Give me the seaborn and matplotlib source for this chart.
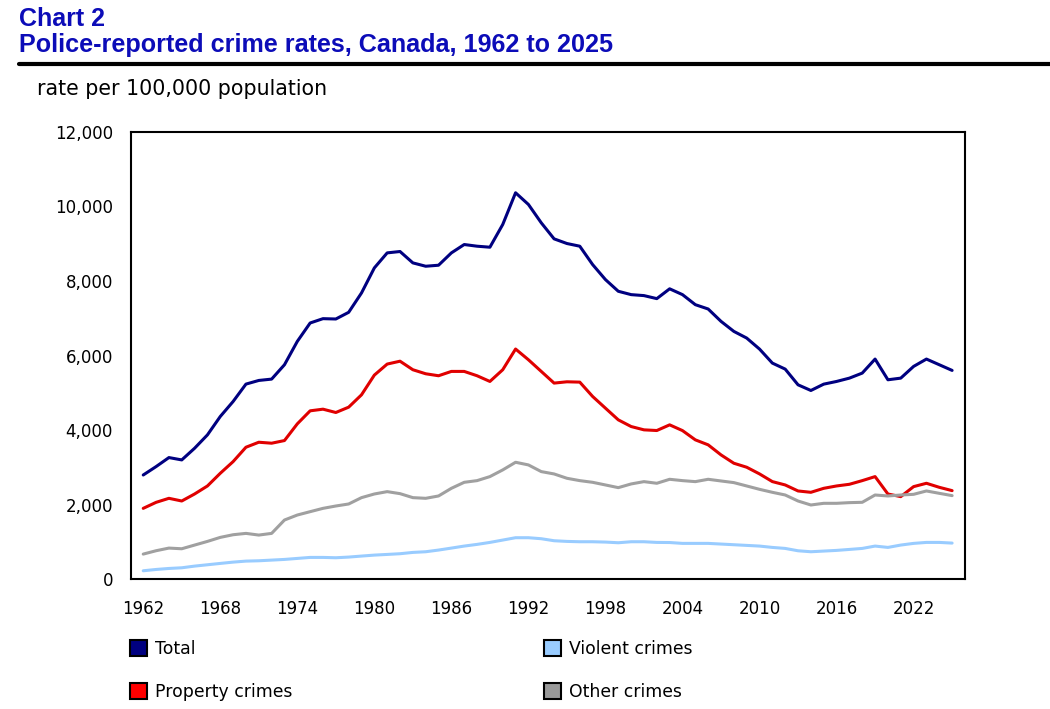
import pandas as pd
import seaborn as sns
import matplotlib.pyplot as plt
from matplotlib.patches import Patch
from matplotlib.lines import Line2D
from matplotlib.ticker import FuncFormatter

# Years and rates per 100,000 population
years = list(range(1962, 2026))

total = [2800, 3025, 3267, 3204, 3517, 3875, 4368, 4770, 5236, 5334,
         5370, 5755, 6381, 6874, 6990, 6981, 7160, 7679, 8350, 8753,
         8790, 8485, 8395, 8422, 8753, 8977, 8932, 8905, 9514, 10364,
         10051, 9559, 9129, 9004, 8932, 8440, 8037, 7724, 7634, 7608,
         7527, 7790, 7634, 7365, 7249, 6918, 6649, 6470, 6175, 5799,
         5638, 5217, 5065, 5235, 5307, 5396, 5531, 5907, 5352, 5396,
         5710, 5907, 5755, 5603]

property_crimes = [1906, 2067, 2175, 2103, 2291, 2506, 2846, 3159, 3544, 3678,
                   3652, 3723, 4171, 4520, 4564, 4475, 4618, 4949, 5477, 5773,
                   5850, 5621, 5513, 5460, 5576, 5576, 5460, 5307, 5621, 6176,
                   5889, 5576, 5263, 5298, 5289, 4905, 4591, 4278, 4099, 4010,
                   3992, 4144, 3990, 3742, 3608, 3339, 3115, 3008, 2829, 2623,
                   2533, 2372, 2336, 2443, 2506, 2551, 2649, 2757, 2291, 2220,
                   2488, 2578, 2470, 2381]

violent_crimes = [233, 268, 295, 313, 358, 394, 430, 465, 492, 501,
                  519, 537, 564, 591, 591, 582, 600, 627, 653, 671,
                  690, 725, 743, 788, 841, 895, 940, 993, 1056, 1119,
                  1119, 1092, 1038, 1020, 1011, 1011, 1002, 984, 1011, 1011,
                  993, 990, 967, 967, 967, 949, 931, 913, 895, 859,
                  832, 769, 743, 761, 779, 805, 832, 895, 859, 922,
                  967, 993, 993, 975]

other_crimes = [680, 770, 841, 823, 922, 1020, 1128, 1199, 1235, 1190,
                1235, 1593, 1727, 1817, 1906, 1969, 2023, 2193, 2291, 2354,
                2300, 2193, 2175, 2238, 2443, 2604, 2649, 2757, 2936, 3141,
                3070, 2891, 2828, 2712, 2649, 2604, 2533, 2461, 2560, 2622,
                2578, 2685, 2649, 2622, 2685, 2640, 2596, 2506, 2416, 2336,
                2264, 2103, 1996, 2041, 2041, 2059, 2068, 2264, 2238, 2264,
                2282, 2372, 2309, 2247]

series_names = ['Total', 'Property crimes', 'Violent crimes', 'Other crimes']
line_colours = ['#000080', '#E00000', '#99CCFF', '#A0A0A0']
box_colours = ['#000080', '#FF0000', '#99CCFF', '#999999']
year_labels = [1962, 1968, 1974, 1980, 1986, 1992, 1998, 2004, 2010, 2016, 2022]
rate_ticks = [0, 2000, 4000, 6000, 8000, 10000, 12000]

df = pd.DataFrame({'year': years,
                   'Total': total,
                   'Property crimes': property_crimes,
                   'Violent crimes': violent_crimes,
                   'Other crimes': other_crimes})
long_df = df.melt(id_vars='year', var_name='series', value_name='rate')

sns.set_style('white')
plt.rcParams['font.family'] = ['DejaVu Sans']
plt.rcParams['text.color'] = 'black'
plt.rcParams['xtick.color'] = 'black'
plt.rcParams['ytick.color'] = 'black'

fig = plt.figure(figsize=(10.5, 7.09), dpi=100)
ax = fig.add_axes([0.1248, 0.1827, 0.7942, 0.6315])

sns.lineplot(data=long_df, x='year', y='rate', hue='series',
             hue_order=series_names,
             palette=dict(zip(series_names, line_colours)),
             linewidth=2.2, legend=False, ax=ax)

ax.set_xlim(1961.05, 2026.0)
ax.set_ylim(0, 12000)
ax.set_xticks(year_labels)
ax.set_xticks(years, minor=True)
ax.set_yticks(rate_ticks)
ax.yaxis.set_major_formatter(FuncFormatter(lambda v, p: f'{int(v):,}'))
ax.set_xlabel('')
ax.set_ylabel('')

ax.tick_params(axis='x', which='both', direction='in', length=5, width=1.5,
               labelsize=12, pad=15, color='black', labelcolor='black')
ax.tick_params(axis='y', direction='in', length=6.5, width=1.5,
               labelsize=12, pad=13, color='black', labelcolor='black')
for s in ax.spines.values():
    s.set_visible(True)
    s.set_color('black')
    s.set_linewidth(1.5)

# titles
title_col = '#0C0CB8'
fig.text(19 / 1050, 1 - 26 / 709, 'Chart 2', family='Liberation Sans',
         weight='bold', size=18, color=title_col, va='baseline')
fig.text(19 / 1050, 1 - 51.7 / 709,
         'Police-reported crime rates, Canada, 1962 to 2025',
         family='Liberation Sans', weight='bold', size=18.1, color=title_col,
         va='baseline')
fig.add_artist(Line2D([19 / 1050, 1], [1 - 63.7 / 709, 1 - 63.7 / 709],
                      color='black', linewidth=3))
fig.text(37 / 1050, 1 - 95 / 709, 'rate per 100,000 population',
         size=14.8, va='baseline', color='black')

# legend with square boxes
handles = [Patch(facecolor=c, edgecolor='black', linewidth=1.5) for c in box_colours]
fig.legend(handles, series_names, ncol=2, loc='upper left',
           bbox_to_anchor=(130 / 1050, 1 - 640 / 709), frameon=False,
           fontsize=12.4, handlelength=1.0, handleheight=1.0,
           handletextpad=0.45, labelspacing=1.45, columnspacing=14.6,
           borderpad=0, borderaxespad=0, labelcolor='black')

fig.savefig('out.png', dpi=100)
